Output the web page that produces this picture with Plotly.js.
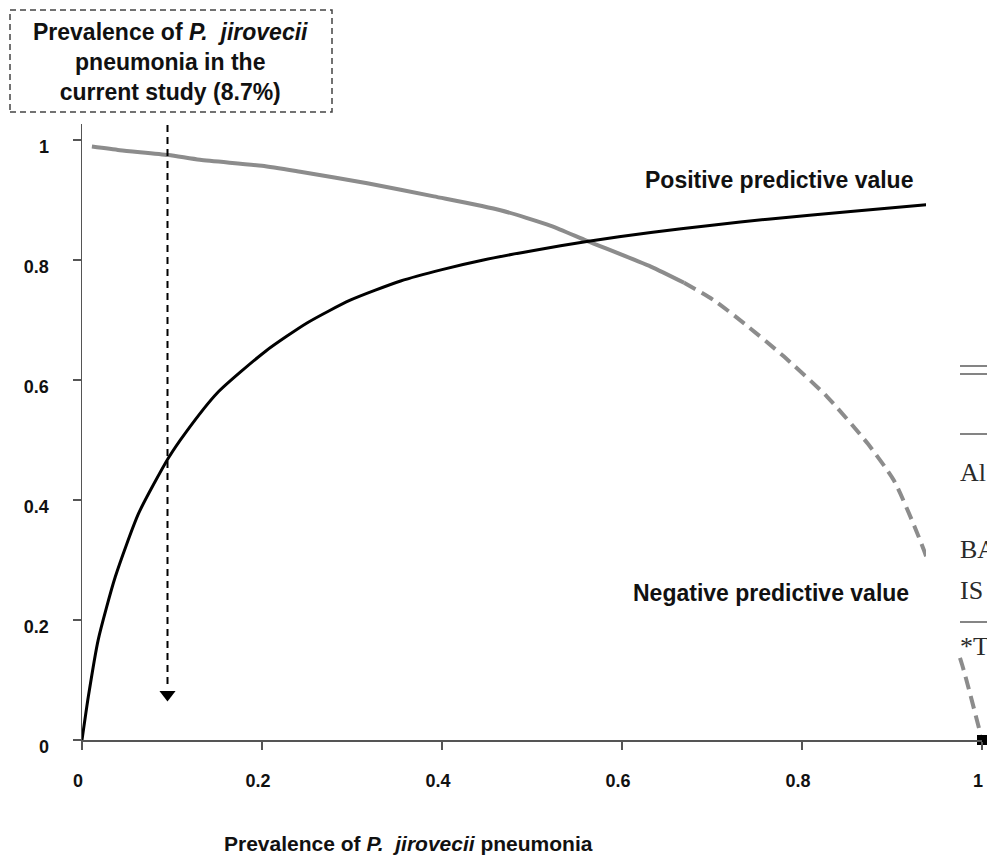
<!DOCTYPE html>
<html>
<head>
<meta charset="utf-8">
<script src="https://cdn.plot.ly/plotly-3.0.1.min.js"></script>
<style>html,body{margin:0;padding:0;background:#fff;}#chart{width:987px;height:855px;}</style>
</head>
<body>
<div id="chart"></div>
<script>
// ---- data ----
const ppvX = [0, 0.007, 0.018, 0.037, 0.063, 0.096, 0.115, 0.15, 0.204, 0.25, 0.298, 0.354, 0.40, 0.446, 0.502, 0.561, 0.632, 0.70, 0.762, 0.854, 0.938];
const ppvY = [0, 0.072, 0.167, 0.272, 0.378, 0.47, 0.512, 0.578, 0.648, 0.695, 0.733, 0.765, 0.784, 0.80, 0.816, 0.831, 0.846, 0.858, 0.868, 0.881, 0.892];

const npvSolidX = [0.011, 0.042, 0.096, 0.131, 0.2, 0.2425, 0.317, 0.391, 0.465, 0.521, 0.561, 0.632, 0.669];
const npvSolidY = [0.989, 0.983, 0.975, 0.967, 0.957, 0.947, 0.928, 0.906, 0.883, 0.857, 0.832, 0.789, 0.762];

const npvDashX = [0.669, 0.702, 0.736, 0.780, 0.828, 0.873, 0.902, 0.925, 0.938, 0.978, 1.0];
const npvDashY = [0.762, 0.733, 0.694, 0.639, 0.572, 0.494, 0.433, 0.356, 0.306, 0.125, 0.0];

const endX = [1];
const endY = [0];

const studyX = [0.095, 0.095];
const studyY = [1.025, 0.09];
const arrowHeadX = [0.095];
const arrowHeadY = [0.076];

const tickVals = [0, 0.2, 0.4, 0.6, 0.8, 1];
const tickText = ['0', '0.2', '0.4', '0.6', '0.8', '1'];

const labelPPV = 'Positive predictive value';
const labelNPV = 'Negative predictive value';
const boxText = 'Prevalence of <i>P.\u00a0 jirovecii</i><br>pneumonia in the<br>current study (8.7%)';
const xTitle = 'Prevalence of <i>P.\u00a0 jirovecii</i> pneumonia';
const tableTexts = ['Al', 'BA', 'IS', '*T'];

// ---- layout helpers (pixel -> paper) ----
const W = 987, H = 855;
const M = {l: 82, r: 5, t: 124, b: 115};
const PW = W - M.l - M.r, PH = H - M.t - M.b;
const px = x => (x - M.l) / PW;
const py = y => (H - M.b - y) / PH;

const FONT = '"Liberation Sans", Arial, Helvetica, sans-serif';
const SERIF = '"Liberation Serif", "Times New Roman", serif';

const traces = [
  {x: npvSolidX, y: npvSolidY, mode: 'lines', line: {color: '#8c8c8c', width: 4, shape: 'spline', smoothing: 0.6}, hoverinfo: 'skip'},
  {x: npvDashX, y: npvDashY, mode: 'lines', line: {color: '#8c8c8c', width: 4, dash: '13px,7px', shape: 'spline', smoothing: 0.6}, hoverinfo: 'skip'},
  {x: ppvX, y: ppvY, mode: 'lines', line: {color: '#000', width: 3, shape: 'spline', smoothing: 0.6}, hoverinfo: 'skip'},
  {x: studyX, y: studyY, mode: 'lines', line: {color: '#000', width: 2, dash: '7px,5px'}, hoverinfo: 'skip', cliponaxis: false},
  {x: arrowHeadX, y: arrowHeadY, mode: 'markers', marker: {symbol: 'triangle-down', size: 14, color: '#000'}, hoverinfo: 'skip'},
  {x: endX, y: endY, mode: 'markers', marker: {symbol: 'square', size: 10, color: '#000'}, cliponaxis: false, hoverinfo: 'skip'}
];

const axisCommon = {
  showgrid: false, zeroline: false, showline: true, linecolor: '#555', linewidth: 1.5,
  ticks: 'outside', ticklen: 8, tickwidth: 1.5, tickcolor: '#555',
  tickvals: tickVals, ticktext: tickText,
  tickfont: {family: FONT, size: 18, color: '#111', weight: 'bold'}
};

const shapes = [
  // dashed box around the study note
  {type: 'rect', xref: 'paper', yref: 'paper', x0: px(10), x1: px(332), y0: py(112), y1: py(10),
   line: {color: '#444', width: 1.5, dash: '6px,4px'}, fillcolor: 'rgba(0,0,0,0)'},
  // white panel of the neighbouring table that cuts the curves
  {type: 'rect', xref: 'paper', yref: 'paper', layer: 'above', x0: px(926), x1: px(995), y0: py(654), y1: py(188),
   line: {width: 0}, fillcolor: '#fff'},
  {type: 'line', xref: 'paper', yref: 'paper', layer: 'above', x0: px(960), x1: px(990), y0: py(366), y1: py(366), line: {color: '#333', width: 1.2}},
  {type: 'line', xref: 'paper', yref: 'paper', layer: 'above', x0: px(960), x1: px(990), y0: py(374), y1: py(374), line: {color: '#333', width: 1.2}},
  {type: 'line', xref: 'paper', yref: 'paper', layer: 'above', x0: px(960), x1: px(990), y0: py(434), y1: py(434), line: {color: '#333', width: 1.2}},
  {type: 'line', xref: 'paper', yref: 'paper', layer: 'above', x0: px(960), x1: px(990), y0: py(622), y1: py(622), line: {color: '#333', width: 1.2}}
];

const bold = {family: FONT, size: 23, color: '#111', weight: 'bold'};
const annotations = [
  {xref: 'paper', yref: 'paper', x: px(170), y: py(62), text: boxText, showarrow: false,
   font: bold, align: 'center', xanchor: 'center', yanchor: 'middle'},
  {xref: 'paper', yref: 'paper', x: px(915), y: py(180), text: labelPPV, showarrow: false,
   font: bold, xanchor: 'right', yanchor: 'middle'},
  {xref: 'paper', yref: 'paper', x: px(911), y: py(593), text: labelNPV, showarrow: false,
   font: bold, xanchor: 'right', yanchor: 'middle'},
  {xref: 'paper', yref: 'paper', x: px(222), y: py(843), text: xTitle, showarrow: false,
   font: {family: FONT, size: 21, color: '#111', weight: 'bold'}, xanchor: 'left', yanchor: 'middle'}
];
const tableY = [472, 549, 590, 646];
tableTexts.forEach((t, i) => {
  annotations.push({xref: 'paper', yref: 'paper', x: px(958), y: py(tableY[i]), text: t, showarrow: false,
    font: {family: SERIF, size: 26, color: '#2a2a2a'}, xanchor: 'left', yanchor: 'middle'});
});

const layout = {
  width: W, height: H, margin: M,
  paper_bgcolor: '#fff', plot_bgcolor: '#fff', showlegend: false,
  xaxis: Object.assign({}, axisCommon, {range: [0, 1.0], ticklabelstandoff: 16, ticklabelshift: -4}),
  yaxis: Object.assign({}, axisCommon, {range: [0, PH / 600], ticklabelstandoff: 20, ticklabelshift: 7}),
  shapes: shapes,
  annotations: annotations
};

Plotly.newPlot('chart', traces, layout, {staticPlot: true, displayModeBar: false});
</script>
</body>
</html>
